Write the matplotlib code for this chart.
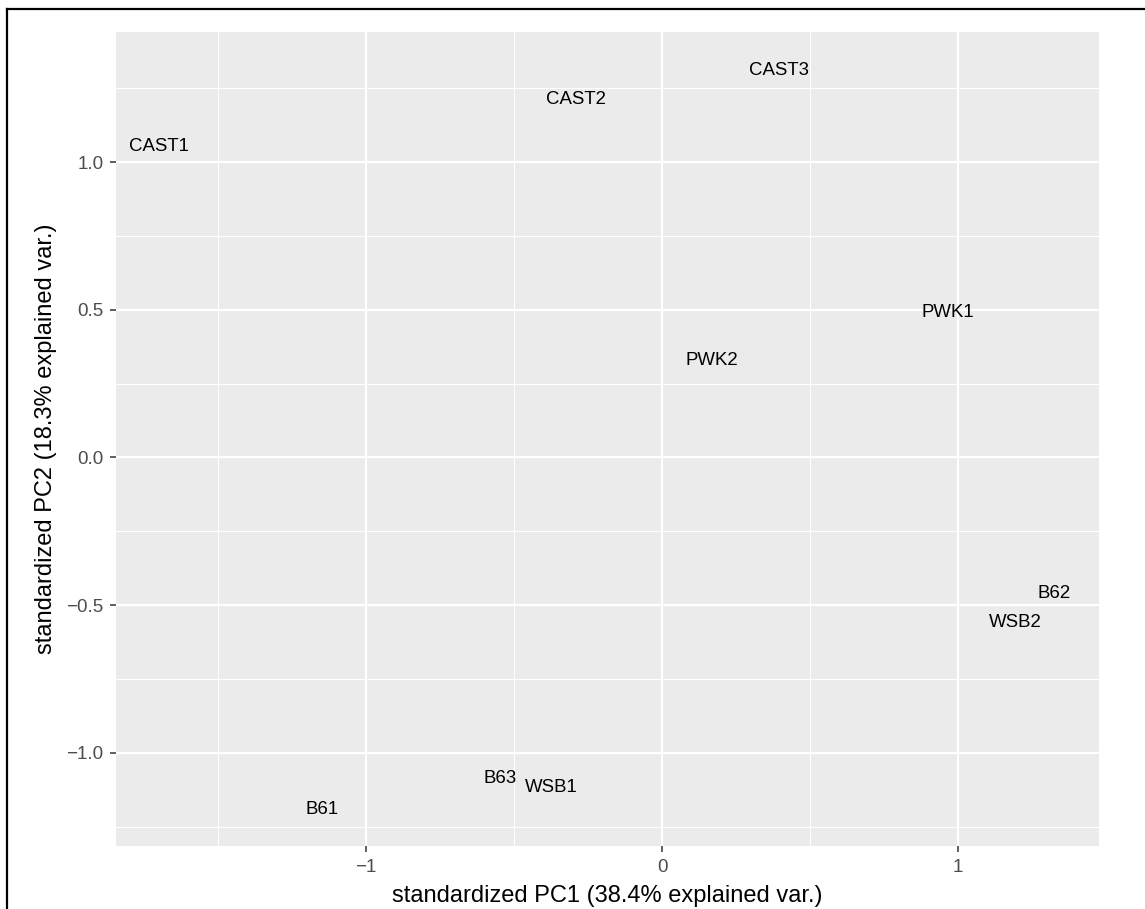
import matplotlib.pyplot as plt
from matplotlib.lines import Line2D

plt.rcParams['font.family'] = ['Liberation Sans', 'DejaVu Sans']

# PCA scores (standardized PC1 / PC2) for each sample
samples = ['CAST1', 'CAST2', 'CAST3', 'PWK1', 'PWK2',
           'B62', 'WSB2', 'B63', 'WSB1', 'B61']
pc1 = [-1.699, -0.290, 0.395, 0.966, 0.169, 1.324, 1.193, -0.547, -0.375, -1.149]
pc2 = [1.053, 1.213, 1.311, 0.492, 0.327, -0.459, -0.560, -1.085, -1.118, -1.190]

x_ticks = [-1, 0, 1]
x_tick_labels = ['\u22121', '0', '1']
y_ticks = [-1.0, -0.5, 0.0, 0.5, 1.0]
y_tick_labels = ['\u22121.0', '\u22120.5', '0.0', '0.5', '1.0']

W, H = 1145, 909
fig = plt.figure(figsize=(W / 100, H / 100), dpi=100)
ax = fig.add_axes([116 / W, 1 - 846 / H, (1099 - 116) / W, (846 - 32) / H])

# ggplot2-like grey panel
ax.set_facecolor('#EBEBEB')
for s in ax.spines.values():
    s.set_visible(False)

ax.set_xlim(-1.845, 1.476)
ax.set_ylim(-1.315, 1.44)

ax.set_xticks(x_ticks)
ax.set_xticklabels(x_tick_labels)
ax.set_yticks(y_ticks)
ax.set_yticklabels(y_tick_labels)
ax.set_xticks([-1.5, -0.5, 0.5], minor=True)
ax.set_yticks([-1.25, -0.75, -0.25, 0.25, 0.75, 1.25], minor=True)

ax.grid(which='major', color='white', linewidth=1.6)
ax.grid(which='minor', color='white', linewidth=0.8)
ax.set_axisbelow(True)

ax.tick_params(which='major', length=4.2, width=1.1, color='#333333',
               labelcolor='#4D4D4D', labelsize=13.6, pad=4.8)
ax.tick_params(which='minor', length=0)

for name, x, y in zip(samples, pc1, pc2):
    ax.text(x, y, name, ha='center', va='center', fontsize=13.4, color='black')

ax.set_xlabel('standardized PC1 (38.4% explained var.)', fontsize=17, labelpad=6.5)
ax.set_ylabel('standardized PC2 (18.3% explained var.)', fontsize=17, labelpad=6.5)

# frame lines around the figure (left and top)
fig.add_artist(Line2D([7 / W, 7 / W], [0, 1 - 9 / H], color='black', linewidth=1.6))
fig.add_artist(Line2D([7 / W, 1], [1 - 9 / H, 1 - 9 / H], color='black', linewidth=1.6))

fig.savefig('out.png', dpi=100)
